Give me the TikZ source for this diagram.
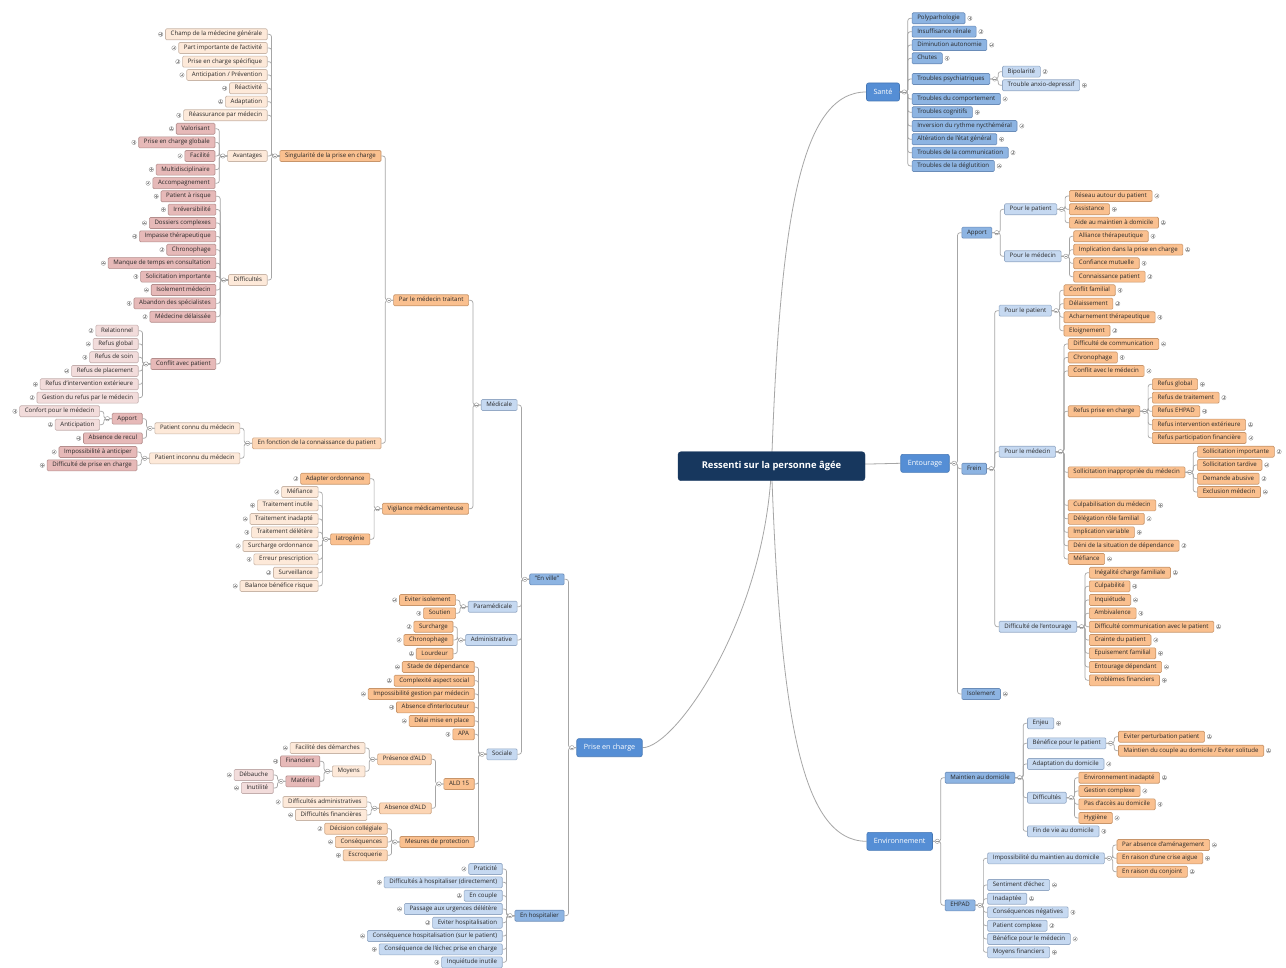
\documentclass[tikz,border=0pt]{standalone}
\usepackage{fontspec}
\setmainfont{Open Sans}
\pgfdeclarelayer{bg}
\pgfsetlayers{bg,main}
\definecolor{cOr}{HTML}{FAC08F}\definecolor{cOrD}{HTML}{C8956A}
\definecolor{cPe}{HTML}{FCD5B4}\definecolor{cPeD}{HTML}{CFA988}
\definecolor{cCr}{HTML}{FDE9D9}\definecolor{cCrD}{HTML}{C9B6A8}
\definecolor{cPk}{HTML}{E6B9B8}\definecolor{cPkD}{HTML}{B48E8D}
\definecolor{cPl}{HTML}{F2DCDB}\definecolor{cPlD}{HTML}{C3AEAD}
\definecolor{cBl}{HTML}{C6D9F1}\definecolor{cBlD}{HTML}{95AAC6}
\definecolor{cBm}{HTML}{8DB4E2}\definecolor{cBmD}{HTML}{6A8CB8}
\definecolor{cBs}{HTML}{558ED5}\definecolor{cBsD}{HTML}{4577B5}
\definecolor{cNv}{HTML}{17375E}
\definecolor{cLn}{HTML}{A6A6A6}
\definecolor{cTx}{HTML}{262626}
\newcommand\LK[5]{\path (#1.west) ++(-12,0) coordinate (tmp);
  \node[box,#2,anchor=east] (#3) at (tmp |- 0,#4) {#5};
  \draw[conn] (#1.west) -- ++(-8,0) |- (#3.east);}
\newcommand\LL[5]{\LK{#1}{#2}{#3}{#4}{#5}\pic at ([xshift=-4.5pt]#3.west) {pplus};}
\newcommand\RK[5]{\path (#1.east) ++(12,0) coordinate (tmp);
  \node[box,#2,anchor=west] (#3) at (tmp |- 0,#4) {#5};
  \draw[conn] (#1.east) -- ++(8,0) |- (#3.west);}
\newcommand\RL[5]{\RK{#1}{#2}{#3}{#4}{#5}\pic at ([xshift=4.5pt]#3.east) {pplus};}
\begin{document}
\begin{tikzpicture}[x=1pt,y=-1pt,
  box/.style={draw, rounded corners=1.2pt, minimum height=11pt, inner xsep=5.2pt, inner ysep=0pt,
    text height=4.4pt, text depth=1.2pt, font=\fontsize{6.1}{6.5}\selectfont, text=cTx, line width=0.6pt},
  sOr/.style={fill=cOr,draw=cOrD}, sPe/.style={fill=cPe,draw=cPeD}, sCr/.style={fill=cCr,draw=cCrD},
  sPk/.style={fill=cPk,draw=cPkD}, sPl/.style={fill=cPl,draw=cPlD}, sBl/.style={fill=cBl,draw=cBlD},
  sBm/.style={fill=cBm,draw=cBmD},
  conn/.style={draw=cLn, line width=0.7pt, rounded corners=2.5pt},
  curv/.style={draw=cLn, line width=0.8pt},
  pmc/.style={draw=cLn!90!black, fill=white, line width=0.4pt},
  pplus/.pic={\draw[pmc] (0,0) circle[radius=2.2pt]; \draw[pmc,line width=0.35pt] (-1.3pt,0) -- (1.3pt,0) (0,-1.3pt) -- (0,1.3pt);},
  pminus/.pic={\draw[pmc] (0,0) circle[radius=2.2pt]; \draw[pmc,line width=0.35pt] (-1.3pt,0) -- (1.3pt,0);},
  rootn/.style={fill=cNv, draw=cNv, rounded corners=3pt, text=white, font=\fontsize{9.4}{10}\selectfont\bfseries, minimum width=187pt, minimum height=29pt},
  mainn/.style={fill=cBs, draw=cBsD, rounded corners=2pt, text=white, font=\fontsize{7.2}{8}\selectfont, minimum height=18pt, inner xsep=7pt, line width=0.6pt}]
\useasboundingbox (0,0) rectangle (1286,968);
\node[rootn] (root) at (771.5,466.2) {Ressenti sur la personne âgée};
\node[mainn] (sante) at (883,92) {Santé};
\node[mainn] (entourage) at (925,463.3) {Entourage};
\node[mainn] (env) at (899.7,841.3) {Environnement};
\node[mainn] (pec) at (609.5,747.7) {Prise en charge};
\begin{pgfonlayer}{bg}
\fill[white] (0,0) rectangle (1286,968);
\draw[curv] (root.center) .. controls (780,220) and (800,92) .. (sante.west);
\draw[curv] (root.center) -- (entourage.west);
\draw[curv] (root.center) .. controls (780,710) and (800,841.3) .. (env.west);
\draw[curv] (root.center) .. controls (765,620) and (675,747.7) .. (pec.east);
\end{pgfonlayer}
% ---------- Prise en charge ----------
\LK{pec}{sBm}{enville}{579.3}{"En ville"}
\LK{pec}{sBm}{enhosp}{915.7}{En hospitalier}
\LL{enhosp}{sBl}{praticite}{869}{Praticité}
\LL{enhosp}{sBl}{diffhosp}{882.3}{Difficultés à hospitaliser (directement)}
\LL{enhosp}{sBl}{encouple}{895.7}{En couple}
\LL{enhosp}{sBl}{passage}{909}{Passage aux urgences délétère}
\LL{enhosp}{sBl}{evithosp}{922.7}{Eviter hospitalisation}
\LL{enhosp}{sBl}{conshosp}{936}{Conséquence hospitalisation (sur le patient)}
\LL{enhosp}{sBl}{consechec}{949.3}{Conséquence de l'échec prise en charge}
\LL{enhosp}{sBl}{inquieta}{962.3}{Inquiétude inutile}
\LK{enville}{sBl}{medicale}{405}{Médicale}
\LK{enville}{sBl}{paramed}{606.7}{Paramédicale}
\LK{enville}{sBl}{admin}{640}{Administrative}
\LK{enville}{sBl}{sociale}{754.3}{Sociale}
\LL{paramed}{sOr}{evitiso}{600}{Eviter isolement}
\LL{paramed}{sOr}{soutien}{613.3}{Soutien}
\LL{admin}{sOr}{surcharge}{626.7}{Surcharge}
\LL{admin}{sOr}{chronoa}{640}{Chronophage}
\LL{admin}{sOr}{lourdeur}{653.7}{Lourdeur}
\LL{sociale}{sOr}{stade}{667}{Stade de dépendance}
\LL{sociale}{sOr}{complex}{680.7}{Complexité aspect social}
\LL{sociale}{sOr}{impgest}{694}{Impossibilité gestion par médecin}
\LL{sociale}{sOr}{absint}{707.3}{Absence d'interlocuteur}
\LL{sociale}{sOr}{delai}{721}{Délai mise en place}
\LL{sociale}{sOr}{apa}{734.3}{APA}
\LK{sociale}{sOr}{ald}{784}{ALD 15}
\LK{sociale}{sOr}{mesures}{842}{Mesures de protection}
\LK{ald}{sPe}{presald}{759.3}{Présence d'ALD}
\LK{ald}{sPe}{absald}{808.3}{Absence d'ALD}
\LL{presald}{sCr}{facdem}{748}{Facilité des démarches}
\LK{presald}{sCr}{moyens}{771.3}{Moyens}
\LL{moyens}{sPk}{financiers}{761.3}{Financiers}
\LK{moyens}{sPk}{materiel}{781.3}{Matériel}
\LL{materiel}{sPl}{debauche}{775}{Débauche}
\LL{materiel}{sPl}{inutilite}{788}{Inutilité}
\LL{absald}{sCr}{diffadm}{802}{Difficultés administratives}
\LL{absald}{sCr}{difffin}{815}{Difficultés financières}
\LL{mesures}{sPe}{decision}{828.7}{Décision collégiale}
\LL{mesures}{sPe}{conseq}{842}{Conséquences}
\LL{mesures}{sPe}{escroq}{855.3}{Escroquerie}
\LK{medicale}{sOr}{partrait}{300.3}{Par le médecin traitant}
\LK{medicale}{sOr}{vigil}{508.7}{Vigilance médicamenteuse}
\LL{vigil}{sOr}{adapter}{478.7}{Adapter ordonnance}
\LK{vigil}{sOr}{iatro}{539.3}{Iatrogénie}
\LL{iatro}{sCr}{mefa}{492}{Méfiance}
\LL{iatro}{sCr}{trinutile}{505.3}{Traitement inutile}
\LL{iatro}{sCr}{trinadapte}{519}{Traitement inadapté}
\LL{iatro}{sCr}{trdeletere}{532.3}{Traitement délétère}
\LL{iatro}{sCr}{surchord}{546}{Surcharge ordonnance}
\LL{iatro}{sCr}{erreur}{559.3}{Erreur prescription}
\LL{iatro}{sCr}{surveil}{572.7}{Surveillance}
\LL{iatro}{sCr}{balance}{586}{Balance bénéfice risque}
\LK{partrait}{sOr}{singul}{156}{Singularité de la prise en charge}
\LK{partrait}{sPe}{enfonction}{443.3}{En fonction de la connaissance du patient}
\LL{singul}{sCr}{champ}{34.3}{Champ de la médecine générale}
\LL{singul}{sCr}{partimp}{48}{Part importante de l'activité}
\LL{singul}{sCr}{pecspec}{61.7}{Prise en charge spécifique}
\LL{singul}{sCr}{anticipa}{75}{Anticipation / Prévention}
\LL{singul}{sCr}{reactiv}{88.3}{Réactivité}
\LL{singul}{sCr}{adapt}{101.7}{Adaptation}
\LL{singul}{sCr}{reassur}{115.3}{Réassurance par médecin}
\LK{singul}{sCr}{avant}{156}{Avantages}
\LK{singul}{sCr}{diffic}{280}{Difficultés}
\LL{avant}{sPk}{valoris}{128.8}{Valorisant}
\LL{avant}{sPk}{pecglob}{142.4}{Prise en charge globale}
\LL{avant}{sPk}{facilite}{156}{Facilité}
\LL{avant}{sPk}{multi}{169.6}{Multidisciplinaire}
\LL{avant}{sPk}{accomp}{183.2}{Accompagnement}
\LL{diffic}{sPk}{patrisque}{196.3}{Patient à risque}
\LL{diffic}{sPk}{irrev}{209.6}{Irréversibilité}
\LL{diffic}{sPk}{dossiers}{223}{Dossiers complexes}
\LL{diffic}{sPk}{impasse}{236.4}{Impasse thérapeutique}
\LL{diffic}{sPk}{chronob}{249.8}{Chronophage}
\LL{diffic}{sPk}{manque}{263.2}{Manque de temps en consultation}
\LL{diffic}{sPk}{solicit}{276.6}{Solicitation importante}
\LL{diffic}{sPk}{isolmed}{290}{Isolement médecin}
\LL{diffic}{sPk}{abandon}{303.4}{Abandon des spécialistes}
\LL{diffic}{sPk}{delaissee}{316.8}{Médecine délaissée}
\LK{diffic}{sPk}{conflit}{364}{Conflit avec patient}
\LL{conflit}{sPl}{relation}{330.7}{Relationnel}
\LL{conflit}{sPl}{refusgloba}{344}{Refus global}
\LL{conflit}{sPl}{refussoin}{357.3}{Refus de soin}
\LL{conflit}{sPl}{refusplac}{371}{Refus de placement}
\LL{conflit}{sPl}{refusinta}{384.3}{Refus d'intervention extérieure}
\LL{conflit}{sPl}{gestion}{397.7}{Gestion du refus par le médecin}
\LK{enfonction}{sCr}{connu}{428.3}{Patient connu du médecin}
\LK{enfonction}{sCr}{inconnu}{458.3}{Patient inconnu du médecin}
\LK{connu}{sPk}{apporta}{418.7}{Apport}
\LL{connu}{sPk}{absrecul}{438.3}{Absence de recul}
\LL{apporta}{sPl}{confort}{411.3}{Confort pour le médecin}
\LL{apporta}{sPl}{anticipb}{424.7}{Anticipation}
\LL{inconnu}{sPk}{impant}{452}{Impossibilité à anticiper}
\LL{inconnu}{sPk}{diffpec}{465.3}{Difficulté de prise en charge}
% ---------- Santé ----------
\RL{sante}{sBm}{polyp}{18.3}{Polyparhologie}
\RL{sante}{sBm}{insuff}{31.7}{Insuffisance rénale}
\RL{sante}{sBm}{diminu}{45}{Diminution autonomie}
\RL{sante}{sBm}{chutes}{58.3}{Chutes}
\RK{sante}{sBm}{psy}{79}{Troubles psychiatriques}
\RL{sante}{sBm}{comport}{99}{Troubles du comportement}
\RL{sante}{sBm}{cognit}{112.3}{Troubles cognitifs}
\RL{sante}{sBm}{inversion}{126}{Inversion du rythme nycthéméral}
\RL{sante}{sBm}{alter}{139.3}{Altération de l'état général}
\RL{sante}{sBm}{commun}{152.7}{Troubles de la communication}
\RL{sante}{sBm}{deglut}{166}{Troubles de la déglutition}
\RL{psy}{sBl}{bipol}{71.7}{Bipolarité}
\RL{psy}{sBl}{anxio}{85.3}{Trouble anxio-depressif}
% ---------- Entourage ----------
\RK{entourage}{sBm}{apportb}{232.7}{Apport}
\RK{entourage}{sBm}{frein}{468.7}{Frein}
\RL{entourage}{sBm}{isolement}{694}{Isolement}
\RK{apportb}{sBl}{pppata}{209.3}{Pour le patient}
\RK{apportb}{sBl}{ppmeda}{256.3}{Pour le médecin}
\RL{pppata}{sOr}{reseau}{196}{Réseau autour du patient}
\RL{pppata}{sOr}{assist}{209.3}{Assistance}
\RL{pppata}{sOr}{aide}{222.7}{Aide au maintien à domicile}
\RL{ppmeda}{sOr}{alliance}{236.3}{Alliance thérapeutique}
\RL{ppmeda}{sOr}{implic}{249.7}{Implication dans la prise en charge}
\RL{ppmeda}{sOr}{confiance}{263.3}{Confiance mutuelle}
\RL{ppmeda}{sOr}{connaiss}{276.7}{Connaissance patient}
\RK{frein}{sBl}{pppatb}{310.7}{Pour le patient}
\RK{frein}{sBl}{ppmedb}{451.7}{Pour le médecin}
\RK{frein}{sBl}{diffent}{626.7}{Difficulté de l'entourage}
\RL{pppatb}{sOr}{conflitfam}{290.3}{Conflit familial}
\RL{pppatb}{sOr}{delaiss}{303.7}{Délaissement}
\RL{pppatb}{sOr}{acharn}{317.3}{Acharnement thérapeutique}
\RL{pppatb}{sOr}{eloign}{330.7}{Eloignement}
\RL{ppmedb}{sOr}{diffcom}{344}{Difficulté de communication}
\RL{ppmedb}{sOr}{chronoc}{357.5}{Chronophage}
\RL{ppmedb}{sOr}{conflitmed}{371}{Conflit avec le médecin}
\RK{ppmedb}{sOr}{refuspec}{411.3}{Refus prise en charge}
\RK{ppmedb}{sOr}{sollinap}{472.3}{Sollicitation inappropriée du médecin}
\RL{ppmedb}{sOr}{culpab}{505.3}{Culpabilisation du médecin}
\RL{ppmedb}{sOr}{delegation}{518.8}{Délégation rôle familial}
\RL{ppmedb}{sOr}{implvar}{532.3}{Implication variable}
\RL{ppmedb}{sOr}{deni}{545.7}{Déni de la situation de dépendance}
\RL{ppmedb}{sOr}{mefb}{559}{Méfiance}
\RL{refuspec}{sOr}{refusglobb}{384.3}{Refus global}
\RL{refuspec}{sOr}{refustrait}{397.7}{Refus de traitement}
\RL{refuspec}{sOr}{refusehpad}{411.3}{Refus EHPAD}
\RL{refuspec}{sOr}{refusintb}{424.7}{Refus intervention extérieure}
\RL{refuspec}{sOr}{refuspart}{438}{Refus participation financière}
\RL{sollinap}{sOr}{sollimp}{451.7}{Sollicitation importante}
\RL{sollinap}{sOr}{solltard}{465}{Sollicitation tardive}
\RL{sollinap}{sOr}{demande}{478.7}{Demande abusive}
\RL{sollinap}{sOr}{exclusion}{492}{Exclusion médecin}
\RL{diffent}{sOr}{inegal}{572.7}{Inégalité charge familiale}
\RL{diffent}{sOr}{culpabb}{586.3}{Culpabilité}
\RL{diffent}{sOr}{inquietb}{600}{Inquiétude}
\RL{diffent}{sOr}{ambiv}{613.3}{Ambivalence}
\RL{diffent}{sOr}{diffcompat}{626.7}{Difficulté communication avec le patient}
\RL{diffent}{sOr}{crainte}{640}{Crainte du patient}
\RL{diffent}{sOr}{epuis}{653.3}{Epuisement familial}
\RL{diffent}{sOr}{entdep}{667}{Entourage dépendant}
\RL{diffent}{sOr}{probfin}{680.3}{Problèmes financiers}
% ---------- Environnement ----------
\RK{env}{sBm}{maintien}{777.7}{Maintien au domicile}
\RK{env}{sBm}{ehpad}{905.3}{EHPAD}
\RL{maintien}{sBl}{enjeu}{723.3}{Enjeu}
\RK{maintien}{sBl}{benefpat}{743.3}{Bénéfice pour le patient}
\RL{maintien}{sBl}{adaptdom}{764}{Adaptation du domicile}
\RK{maintien}{sBl}{diffs}{797.7}{Difficultés}
\RL{maintien}{sBl}{finvie}{831.3}{Fin de vie au domicile}
\RL{benefpat}{sOr}{evitpert}{736.7}{Eviter perturbation patient}
\RL{benefpat}{sOr}{maintcouple}{750.7}{Maintien du couple au domicile / Eviter solitude}
\RL{diffs}{sOr}{envinad}{777.7}{Environnement inadapté}
\RL{diffs}{sOr}{gestcomp}{791}{Gestion complexe}
\RL{diffs}{sOr}{pasacces}{804.3}{Pas d'accès au domicile}
\RL{diffs}{sOr}{hygiene}{818}{Hygiène}
\RK{ehpad}{sBl}{impmaint}{858.3}{Impossibilité du maintien au domicile}
\RL{ehpad}{sBl}{sentech}{885}{Sentiment d'échec}
\RL{ehpad}{sBl}{inadaptee}{898.7}{Inadaptée}
\RL{ehpad}{sBl}{consneg}{912.3}{Conséquences négatives}
\RL{ehpad}{sBl}{patcomp}{925.7}{Patient complexe}
\RL{ehpad}{sBl}{benefmed}{939}{Bénéfice pour le médecin}
\RL{ehpad}{sBl}{moyfin}{952.3}{Moyens financiers}
\RL{impmaint}{sOr}{parabs}{845}{Par absence d'aménagement}
\RL{impmaint}{sOr}{crise}{858.3}{En raison d'une crise aigue}
\RL{impmaint}{sOr}{conjoint}{871.7}{En raison du conjoint}
% ---------- collapse markers ----------
\foreach \n in {pec,enville,enhosp,medicale,paramed,admin,sociale,ald,presald,moyens,materiel,absald,mesures,partrait,vigil,iatro,singul,avant,diffic,conflit,enfonction,connu,apporta,inconnu}
  \pic at ([xshift=-4.5pt]\n.west) {pminus};
\foreach \n in {sante,psy,entourage,apportb,pppata,ppmeda,frein,pppatb,ppmedb,refuspec,sollinap,diffent,env,maintien,benefpat,diffs,ehpad,impmaint}
  \pic at ([xshift=4.5pt]\n.east) {pminus};
\end{tikzpicture}
\end{document}
